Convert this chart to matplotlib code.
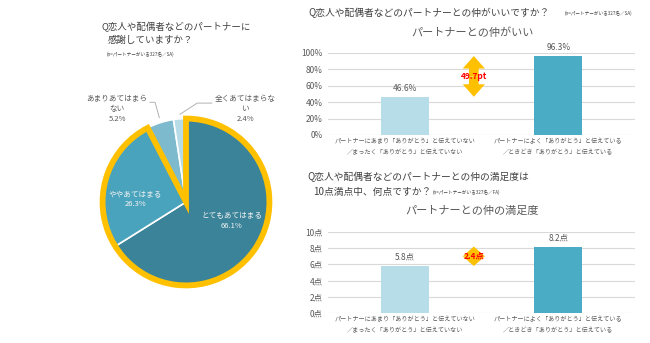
import matplotlib
matplotlib.use("Agg")
import matplotlib.pyplot as plt
from matplotlib.patches import Wedge, FancyArrowPatch, ArrowStyle

plt.rcParams['font.family'] = ['Noto Sans CJK JP', 'DejaVu Sans']

# ---------------- data ----------------
pie_labels = ["とてもあてはまる", "ややあてはまる", "あまりあてはまら\nない", "全くあてはまらな\nい"]
pie_values = [66.1, 26.3, 5.2, 2.4]

bar_categories = ["パートナーにあまり「ありがとう」と伝えていない\n／まったく「ありがとう」と伝えていない",
                  "パートナーによく「ありがとう」と伝えている\n／ときどき「ありがとう」と伝えている"]
good_relation = [46.6, 96.3]
satisfaction = [5.8, 8.2]
pct_ticks = [0, 20, 40, 60, 80, 100]
pt_ticks = [0, 2, 4, 6, 8, 10]

W, H = 650, 343
fig = plt.figure(figsize=(W / 100, H / 100), dpi=100)
fig.patch.set_facecolor('white')

def fx(x):
    return x / W

def fy(y):
    return 1 - y / H

GRAY = '#595959'
GOLD = '#FFC000'

# ---------------- pie ----------------
cx, cy, r = 186, 202, 86
half = 100
axp = fig.add_axes([fx(cx - half), fy(cy + half), 2 * half / W, 2 * half / H])
lim = half / r
pie_colors = ['#3A8399', '#4AA3BC', '#7DBACD', '#B7DCE7']
axp.pie(pie_values, startangle=90, counterclock=False, colors=pie_colors, radius=0.97,
        wedgeprops=dict(edgecolor='white', linewidth=1.2), frame=True)
axp.set_xlim(-lim, lim)
axp.set_ylim(-lim, lim)
axp.set_aspect('auto')
axp.axis('off')
sel = (pie_values[0] + pie_values[1]) / sum(pie_values)
outline = Wedge((0, 0), 0.97, 90 - 360 * sel, 90, fill=False, edgecolor=GOLD, linewidth=4.2,
                joinstyle='miter')
axp.add_patch(outline)

lab_pos = [(0.53, -0.22), (-0.59, 0.03), (-0.80, 1.08), (0.69, 1.08)]
lab_col = ['#F2F2F2', '#F2F2F2', GRAY, GRAY]
for (lx, ly), lab, v, c in zip(lab_pos, pie_labels, pie_values, lab_col):
    axp.text(lx, ly, f"{lab}\n{v}%", ha='center', va='center', fontsize=5.5, color=c,
             linespacing=1.35)
# leader lines
axp.plot([-0.42, -0.36, -0.31], [1.16, 1.16, 0.98], color='#A6A6A6', lw=0.6, clip_on=False)
axp.plot([0.30, 0.13, -0.07], [1.15, 1.15, 1.02], color='#A6A6A6', lw=0.6, clip_on=False)

# left title
fig.text(fx(102), fy(27), "Q恋人や配偶者などのパートナーに", fontsize=6.8, color='#404040', va='center')
fig.text(fx(108), fy(40), "感謝していますか？", fontsize=6.8, color='#404040', va='center')
fig.text(fx(107), fy(54), "(n=パートナーがいる327名／SA)", fontsize=3.3, color='#404040', va='center')

# ---------------- bar charts ----------------
def bar_chart(rect, values, ticks, fmt, ymax, title, title_y, diff_fmt, head_len):
    ax = fig.add_axes(rect)
    x = [0.5, 1.5]
    ax.bar(x, values, width=0.31, color=['#B7DDE8', '#4BACC6'], zorder=3)
    ax.set_xlim(0, 2)
    ax.set_ylim(0, ymax)
    ax.set_yticks(ticks)
    ax.set_yticklabels([fmt(t) for t in ticks], fontsize=6, color=GRAY)
    ax.set_xticks(x)
    ax.set_xticklabels(bar_categories, fontsize=4.4, color=GRAY, linespacing=1.5)
    ax.tick_params(axis='x', length=0, pad=1.5)
    ax.tick_params(axis='y', length=0, pad=4)
    for s in ax.spines.values():
        s.set_visible(False)
    ax.grid(axis='y', color='#D9D9D9', lw=0.8, zorder=0)
    ax.set_axisbelow(True)
    for xi, v in zip(x, values):
        ax.text(xi, v + ymax * 0.05, fmt(v), ha='center', va='bottom', fontsize=6, color=GRAY)
    # gap double arrow (two arrows from the midpoint outwards)
    mid = (values[0] + values[1]) / 2
    style = ArrowStyle('simple', head_length=head_len, head_width=16, tail_width=7)
    for end in values:
        ax.add_patch(FancyArrowPatch((0.95, mid), (0.95, end), arrowstyle=style,
                                     mutation_scale=1, color=GOLD, lw=0, shrinkA=0, shrinkB=0,
                                     zorder=4))
    ax.text(0.95, mid, diff_fmt(values[1] - values[0]), ha='center',
            va='center', fontsize=6, color='#FF0000', fontweight='bold', zorder=5)
    fig.text(fx(472), fy(title_y), title, ha='center', va='center', fontsize=8, color=GRAY)
    return ax

bar_chart([fx(328), fy(135), 307 / W, 82 / H], good_relation, pct_ticks,
          lambda v: f"{v:g}%" if v % 1 else f"{int(v)}%", 100,
          "パートナーとの仲がいい", 33, lambda d: f"{d:.1f}pt", 9)
bar_chart([fx(328), fy(313), 307 / W, 81 / H], satisfaction, pt_ticks,
          lambda v: f"{v:g}点", 10,
          "パートナーとの仲の満足度", 211, lambda d: f"{d:.1f}点", 7)

fig.text(fx(308), fy(13), "Q恋人や配偶者などのパートナーとの仲がいいですか？", fontsize=7, color='#404040', va='center')
fig.text(fx(565), fy(13), "(n=パートナーがいる327名／SA)", fontsize=3.3, color='#404040', va='center')
fig.text(fx(307), fy(177), "Q恋人や配偶者などのパートナーとの仲の満足度は", fontsize=7, color='#404040', va='center')
fig.text(fx(313), fy(192), "10点満点中、何点ですか？", fontsize=7, color='#404040', va='center')
fig.text(fx(433), fy(192), "(n=パートナーがいる327名／FA)", fontsize=3.3, color='#404040', va='center')

fig.savefig("out.png", dpi=100, facecolor='white')
